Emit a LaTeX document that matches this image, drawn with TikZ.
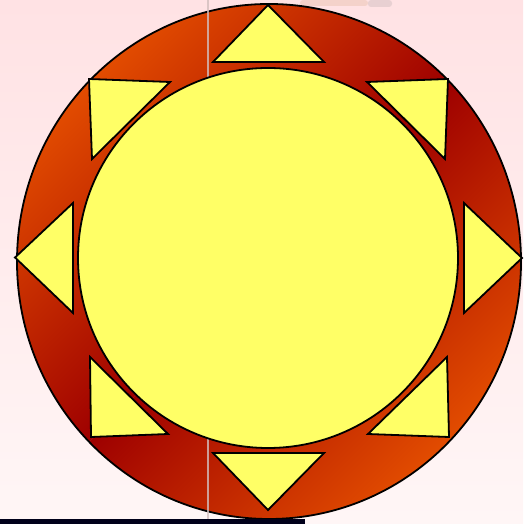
\documentclass[tikz,border=0pt]{standalone}
\usetikzlibrary{shapes.geometric}
\definecolor{ringorange}{HTML}{E44E00}
\definecolor{ringdark}{HTML}{9E0000}
\definecolor{sunyellow}{HTML}{FFFF66}
\definecolor{bgpink}{HTML}{FFE2E4}
\definecolor{bgwhite}{HTML}{FFF6F6}
\definecolor{barnavy}{HTML}{00001A}
\tikzset{
  outline/.style={draw=black, line width=1.8pt, line join=miter},
  ray/.style={outline, fill=sunyellow},
}
\begin{document}
\begin{tikzpicture}[x=1pt,y=1pt]
  % background
  \shade[top color=bgpink, bottom color=bgwhite] (0,0) rectangle (523,524);
  \useasboundingbox (0,0) rectangle (523,524);
  % faint blurred fragment at top
  \fill[color={rgb,255:red,200;green,150;blue,100}, opacity=0.2, rounded corners=3pt] (300,524) rectangle (368,518);
  \fill[color={rgb,255:red,140;green,140;blue,140}, opacity=0.2, rounded corners=3pt] (368,524) rectangle (392,517);
  % outer ring: mirrored diagonal gradient
  \begin{scope}
    \clip (269,262.5) ellipse [x radius=252, y radius=257.5];
    \begin{scope}[transform canvas={rotate around={45:(269,262.5)}}]
      \shade[top color=ringorange, bottom color=ringdark] (-131,262.5) rectangle (669,524);
      \shade[top color=ringdark, bottom color=ringorange] (-131,1) rectangle (669,262.5);
    \end{scope}
  \end{scope}
  \draw[outline] (269,262.5) ellipse [x radius=252, y radius=257.5];
  % thin vertical line
  \draw[color={rgb,255:red,210;green,190;blue,190}, opacity=0.8, line width=1.6pt] (208,0) -- (208,524);
  % inner disc
  \filldraw[outline, fill=sunyellow] (268,266) circle [radius=190];
  % rays
  \filldraw[ray] (268,519) -- (324,462) -- (213,462) -- cycle;
  \filldraw[ray] (268,14) -- (324,71) -- (213,71) -- cycle;
  \filldraw[ray] (15,266.5) -- (73,321) -- (73,211) -- cycle;
  \filldraw[ray] (522,266) -- (464,321) -- (464,211) -- cycle;
  \filldraw[ray] (89,445) -- (170,442) -- (92,365) -- cycle;
  \filldraw[ray] (448,445) -- (367,442) -- (445,365) -- cycle;
  \filldraw[ray] (90,167) -- (91,87) -- (168,90) -- cycle;
  \filldraw[ray] (447,167) -- (449,87) -- (368,90) -- cycle;
  % bottom bar
  \fill[barnavy] (0,0) rectangle (305,4.5);
\end{tikzpicture}
\end{document}
